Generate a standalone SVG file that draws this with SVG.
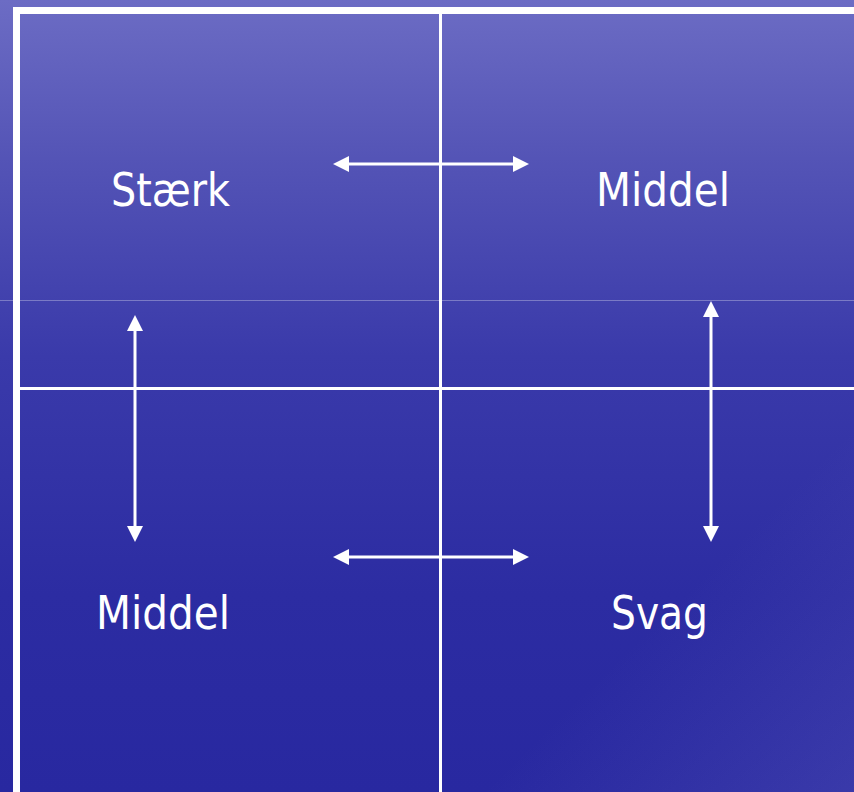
<svg xmlns="http://www.w3.org/2000/svg" width="854" height="792" viewBox="0 0 854 792">
  <defs>
    <linearGradient id="bg" x1="0" y1="0" x2="0" y2="1">
      <stop offset="0" stop-color="#6c6cc4"/>
      <stop offset="0.2" stop-color="#5454b6"/>
      <stop offset="0.45" stop-color="#3a3aaa"/>
      <stop offset="0.75" stop-color="#2c2ca2"/>
      <stop offset="1" stop-color="#2828a0"/>
    </linearGradient>
    <linearGradient id="sheen" x1="0" y1="0" x2="1" y2="1">
      <stop offset="0" stop-color="#8080d0" stop-opacity="0"/>
      <stop offset="0.55" stop-color="#8080d0" stop-opacity="0"/>
      <stop offset="1" stop-color="#8080d0" stop-opacity="0.2"/>
    </linearGradient>
    <marker id="head" viewBox="0 0 16 16" markerWidth="16" markerHeight="16" refX="6" refY="8" orient="auto-start-reverse" markerUnits="userSpaceOnUse">
      <path d="M0,0 L16,8 L0,16 z" fill="#ffffff"/>
    </marker>
    <style>
      .frame { stroke: #ffffff; fill: none; }
      .arrow { stroke: #ffffff; stroke-width: 3; fill: none; marker-start: url(#head); marker-end: url(#head); }
      .label { font-family: "DejaVu Sans Condensed", "DejaVu Sans", sans-serif; font-size: 46px; fill: #ffffff; }
    </style>
  </defs>
  <rect x="0" y="0" width="854" height="792" fill="url(#bg)"/>
  <rect x="440" y="387" width="414" height="405" fill="url(#sheen)"/>
  <line x1="0" y1="300.5" x2="854" y2="300.5" stroke="#ffffff" stroke-opacity="0.3" stroke-width="1"/>

  <g id="grid">
    <line class="frame" x1="13" y1="10.5" x2="854" y2="10.5" stroke-width="7"/>
    <line class="frame" x1="16.5" y1="7" x2="16.5" y2="792" stroke-width="7"/>
    <line class="frame" x1="440.5" y1="14" x2="440.5" y2="792" stroke-width="3"/>
    <line class="frame" x1="20" y1="388.5" x2="854" y2="388.5" stroke-width="3"/>
  </g>

  <g id="n-staerk"><text class="label" x="111" y="206" textLength="119" lengthAdjust="spacingAndGlyphs">Stærk</text></g>
  <g id="n-middel-top"><text class="label" x="596" y="206" textLength="134" lengthAdjust="spacingAndGlyphs">Middel</text></g>
  <g id="n-middel-bottom"><text class="label" x="96" y="629" textLength="134" lengthAdjust="spacingAndGlyphs">Middel</text></g>
  <g id="n-svag"><text class="label" x="611" y="629" textLength="97" lengthAdjust="spacingAndGlyphs">Svag</text></g>

  <g id="connectors">
    <line class="arrow" x1="343" y1="164" x2="519" y2="164"/>
    <line class="arrow" x1="343" y1="557" x2="519" y2="557"/>
    <line class="arrow" x1="135" y1="325" x2="135" y2="532"/>
    <line class="arrow" x1="711" y1="311" x2="711" y2="532"/>
  </g>
</svg>
